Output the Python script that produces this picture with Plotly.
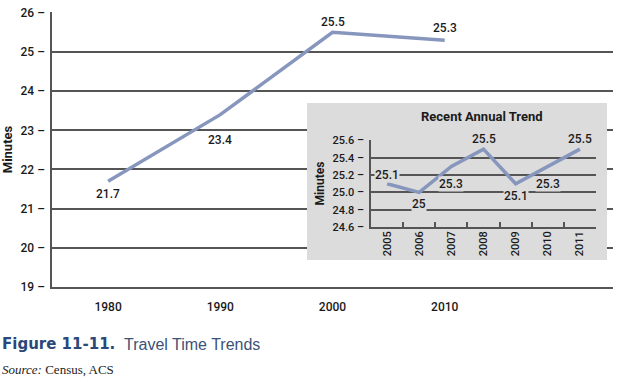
import plotly.graph_objects as go

# ---- data ----
decade_years = [1980, 1990, 2000, 2010]
decade_minutes = [21.7, 23.4, 25.5, 25.3]
main_ytick_vals = [19, 20, 21, 22, 23, 24, 25, 26]
main_ytick_text = ["19 –", "20 –", "21 –", "22 –", "23 –", "24 –", "25 –", "26 –"]

annual_years = ["2005", "2006", "2007", "2008", "2009", "2010", "2011"]
annual_minutes = [25.1, 25.0, 25.3, 25.5, 25.1, 25.3, 25.5]
annual_labels = ["25.1", "25", "25.3", "25.5", "25.1", "25.3", "25.5"]
inset_ytick_vals = [24.6, 24.8, 25.0, 25.2, 25.4, 25.6]
inset_ytick_text = ["24.6 –", "24.8 –", "25.0 –", "25.2 –", "25.4 –", "25.6 –"]

# label offsets (style, pixels)
main_label_shift = [-13, -25, 10, 12]
inset_label_shift = [9, -12, -18, 10, -12, -18, 10]

W, H = 620, 380
COND = "Roboto"
LINE = "#8796bd"
GRID = "#555555"
BOX = "#dcdcdc"
TXT = "#1a1a1a"

def px(x):
    return x / W

def py(y):
    return 1 - y / H

fig = go.Figure()

fig.add_trace(go.Scatter(x=decade_years, y=decade_minutes, mode="lines",
                         line=dict(color=LINE, width=3.5), xaxis="x", yaxis="y",
                         hoverinfo="skip", showlegend=False))
fig.add_trace(go.Scatter(x=[], y=[], xaxis="x2", yaxis="y2", showlegend=False))
fig.add_trace(go.Scatter(x=annual_years, y=annual_minutes, mode="lines",
                         line=dict(color=LINE, width=3.5), xaxis="x3", yaxis="y3",
                         hoverinfo="skip", showlegend=False))

tickfont = dict(family=COND, size=12, color=TXT, weight=500)
smallfont = dict(family=COND, size=11, color=TXT, weight=500)

fig.update_layout(
    width=W, height=H,
    margin=dict(l=0, r=0, t=0, b=0, autoexpand=False),
    paper_bgcolor="white", plot_bgcolor="rgba(0,0,0,0)",
    showlegend=False,
    xaxis=dict(domain=[px(52), px(613)], range=[1975, 2025], anchor="y",
               tickvals=decade_years, ticktext=[str(v) for v in decade_years],
               showgrid=False, zeroline=False, showline=True, linecolor=GRID, linewidth=1.5,
               ticks="", tickfont=tickfont, ticklabelstandoff=8, automargin=False),
    yaxis=dict(domain=[py(287), py(12)], range=[19, 26.02], anchor="x",
               tickvals=main_ytick_vals, ticktext=main_ytick_text,
               showgrid=True, gridcolor=GRID, gridwidth=1.5, zeroline=False,
               showline=True, linecolor=GRID, linewidth=1.5, ticks="",
               tickfont=tickfont, ticklabelstandoff=3, automargin=False,
               title=dict(text="<b>Minutes</b>", font=dict(family=COND, size=13, color=TXT),
                          standoff=10)),
    xaxis2=dict(domain=[px(307), px(607)], range=[0, 1], anchor="y2", visible=False),
    yaxis2=dict(domain=[py(260), py(103)], range=[0, 1], anchor="x2", visible=False),
    xaxis3=dict(domain=[px(371), px(596)], anchor="y3", type="category",
                range=[-0.5, 6.5], tickson="boundaries", ticks="inside", ticklen=5,
                tickcolor=GRID, tickwidth=1.5, tickangle=-90, automargin=False,
                showgrid=False, zeroline=False, showline=True, linecolor=GRID, linewidth=1.5,
                tickfont=smallfont, ticklabelstandoff=-2),
    yaxis3=dict(domain=[py(227), py(140)], range=[24.6, 25.605], anchor="x3",
                tickvals=inset_ytick_vals, ticktext=inset_ytick_text, automargin=False,
                showgrid=True, gridcolor=GRID, gridwidth=1.5, zeroline=False,
                showline=True, linecolor=GRID, linewidth=1.5, ticks="",
                tickfont=smallfont, ticklabelstandoff=3,
                title=dict(text="<b>Minutes</b>", font=dict(family=COND, size=12, color=TXT),
                           standoff=5)),
)

fig.add_shape(type="rect", xref="x2", yref="y2", x0=0, x1=1, y0=0, y1=1,
              fillcolor=BOX, line=dict(width=0), layer="below")

ann_font = dict(family=COND, size=12, color=TXT, weight=500)
for x, v, dy in zip(decade_years, decade_minutes, main_label_shift):
    fig.add_annotation(x=x, y=v, xref="x", yref="y", text=f"{v}", showarrow=False,
                       xanchor="center", yanchor="middle",
                       yshift=dy, font=ann_font, bgcolor="white", borderpad=0)
for i, (v, t, dy) in enumerate(zip(annual_minutes, annual_labels, inset_label_shift)):
    fig.add_annotation(x=i, y=v, xref="x3", yref="y3", text=t, showarrow=False,
                       xanchor="center", yanchor="middle",
                       yshift=dy, font=ann_font, bgcolor=BOX, borderpad=0)

fig.add_annotation(x=px(482), y=py(117), xref="paper", yref="paper",
                   xanchor="center", yanchor="middle",
                   text="<b>Recent Annual Trend</b>", showarrow=False,
                   font=dict(family=COND, size=13, color=TXT))

fig.add_annotation(x=0, y=py(344), xref="paper", yref="paper", xanchor="left", yanchor="middle",
                   text="<b>Figure 11-11.</b>", showarrow=False,
                   font=dict(family="DejaVu Sans", size=15, color="#2a4879"))
fig.add_annotation(x=px(122), y=py(344), xref="paper", yref="paper", xanchor="left",
                   yanchor="middle", text="Travel Time Trends", showarrow=False,
                   font=dict(family="Liberation Sans", size=16, color="#3b5378"))
fig.add_annotation(x=0, y=py(369), xref="paper", yref="paper", xanchor="left", yanchor="middle",
                   text="<i>Source:</i> Census, ACS", showarrow=False,
                   font=dict(family="Liberation Serif", size=13, color="#222222"))

fig.write_html("out.html", config={"displayModeBar": False},
               post_script="document.body.style.margin='0px';")
